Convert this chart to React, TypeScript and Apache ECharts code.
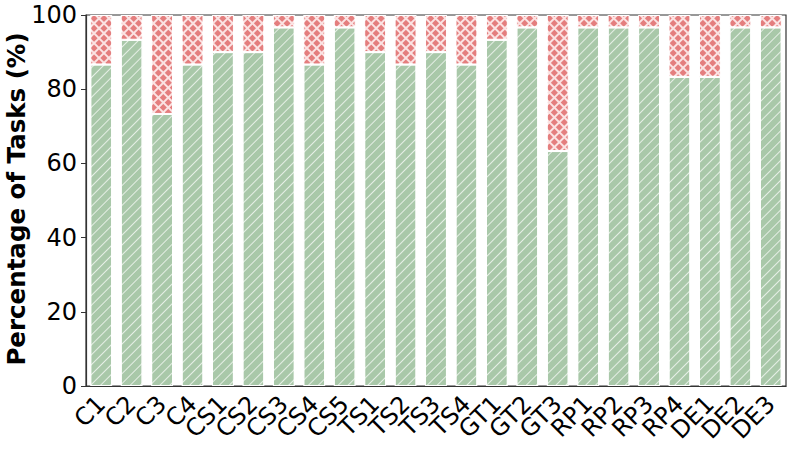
import React, { useEffect, useRef } from "react";
import * as echarts from "echarts";

const categories = ["C1","C2","C3","C4","CS1","CS2","CS3","CS4","CS5","TS1","TS2","TS3","TS4","GT1","GT2","GT3","RP1","RP2","RP3","RP4","DE1","DE2","DE3"];
const successPct = [86.67,93.33,73.33,86.67,90,90,96.67,86.67,96.67,90,86.67,90,86.67,93.33,96.67,63.33,96.67,96.67,96.67,83.33,83.33,96.67,96.67];
const failPct = [13.33,6.67,26.67,13.33,10,10,3.33,13.33,3.33,10,13.33,10,13.33,6.67,3.33,36.67,3.33,3.33,3.33,16.67,16.67,3.33,3.33];
const yTicks = [0, 20, 40, 60, 80, 100];
const yTitle = "Percentage of Tasks (%)";

const GREEN = "#a9c8a9";
const RED = "#e47e7e";
const FONT = "DejaVu Sans";

export default function App() {
  const ref = useRef<HTMLDivElement>(null);
  useEffect(() => {
    if (!ref.current) return;
    const chart = echarts.init(ref.current, undefined, { renderer: "svg" });
    chart.setOption({
      animation: false,
      grid: { left: 86, right: 7, top: 15, bottom: 65, show: true, borderColor: "#333", borderWidth: 1.2, backgroundColor: "transparent" },
      graphic: [
        {
          type: "text",
          x: 16.5,
          y: 199,
          rotation: Math.PI / 2,
          style: {
            text: yTitle,
            fontSize: 24.5,
            fontWeight: "bold",
            fontFamily: FONT,
            fill: "#000",
            align: "center",
            verticalAlign: "middle",
          },
        },
      ],
      xAxis: {
        type: "category",
        data: categories,
        axisLine: { lineStyle: { color: "#333", width: 1.2 } },
        axisTick: { alignWithLabel: true, length: 5, lineStyle: { color: "#333" } },
        axisLabel: { rotate: 45, fontSize: 24, fontFamily: FONT, color: "#000", margin: 14, interval: 0 },
      },
      yAxis: {
        type: "value",
        min: yTicks[0],
        max: yTicks[yTicks.length - 1],
        interval: 20,
        splitLine: { show: false },
        axisLine: { show: true, lineStyle: { color: "#333", width: 1.2 } },
        axisTick: { show: true, length: 5, lineStyle: { color: "#333" } },
        axisLabel: { fontSize: 24, fontFamily: FONT, color: "#000", margin: 9 },
      },
      series: [
        {
          type: "bar",
          stack: "total",
          data: successPct,
          barWidth: "72%",
          itemStyle: {
            color: GREEN,
            borderColor: "#fff",
            borderWidth: 1,
            decal: {
              symbol: "rect",
              color: "rgba(255,255,255,0.7)",
              dashArrayX: [1, 0],
              dashArrayY: [1, 5.5],
              rotation: -Math.PI / 4,
            },
          },
        },
        {
          type: "bar",
          stack: "total",
          data: failPct,
          barWidth: "72%",
          itemStyle: {
            color: "#fbe3e3",
            borderColor: "#fff",
            borderWidth: 1,
            decal: {
              symbol: "rect",
              color: RED,
              dashArrayX: [4.5, 1.1],
              dashArrayY: [4.5, 1.1],
              rotation: Math.PI / 4,
            },
          },
        },
      ],
    });
    return () => chart.dispose();
  }, []);
  return <div ref={ref} style={{ width: 793, height: 451, position: "absolute", left: 0, top: 0 }} />;
}
